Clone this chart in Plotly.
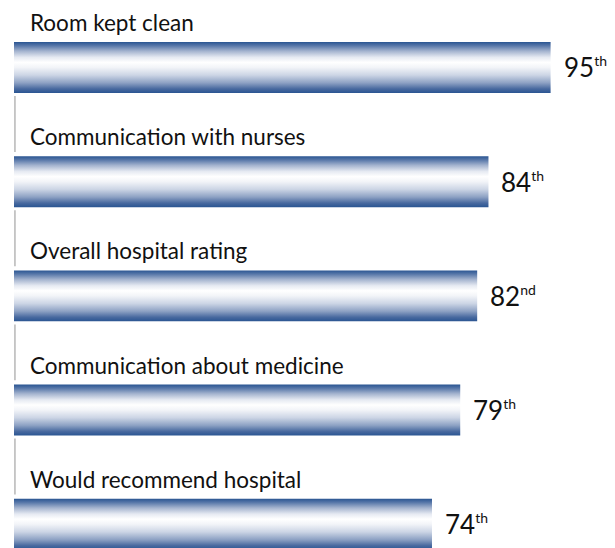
import plotly.graph_objects as go

categories = ["Room kept clean", "Communication with nurses", "Overall hospital rating",
              "Communication about medicine", "Would recommend hospital"]
percentiles = [95, 84, 82, 79, 74]
suffixes = ["th", "th", "nd", "th", "th"]

FONT = "Lato"
half = 0.223  # half bar thickness in category units

gradient = [
    [0.0, "#2a5592"], [0.08, "#48699f"], [0.2, "#8ea2c4"], [0.35, "#ccd5e5"],
    [0.5, "#f2f4f8"], [0.6, "#ffffff"], [0.7, "#e6eaf2"], [0.82, "#a5b4cf"],
    [0.93, "#5676a8"], [1.0, "#2a5592"],
]

fig = go.Figure()

# thin grey connector lines between bars
lx, ly = [], []
for i in range(len(categories) - 1):
    lx += [0.15, 0.15, None]
    ly += [i + 0.25, i + 1 - 0.26, None]
fig.add_trace(go.Scatter(x=lx, y=ly, mode="lines",
                         line=dict(color="#c4c4c4", width=2),
                         hoverinfo="skip", showlegend=False))

for i, (c, v) in enumerate(zip(categories, percentiles)):
    fig.add_trace(go.Scatter(
        x=[0, v, v, 0, 0], y=[i - half, i - half, i + half, i + half, i - half],
        mode="lines", fill="toself", line=dict(width=0),
        fillgradient=dict(type="vertical", colorscale=gradient),
        hoverinfo="skip", showlegend=False))
    fig.add_annotation(x=0, y=i - 0.394, xref="x", yref="y", text=c,
                       xanchor="left", yanchor="middle", xshift=14, showarrow=False,
                       font=dict(family=FONT, size=22.5, color="#111111"))
    fig.add_annotation(x=v, y=i, xref="x", yref="y",
                       text=f"{v}<sup><span style='font-size:14px'>{suffixes[i]}</span></sup>",
                       xanchor="left", yanchor="middle", xshift=11, showarrow=False,
                       font=dict(family=FONT, size=26, color="#111111"))

fig.update_layout(
    width=607, height=540,
    margin=dict(l=6, r=0, t=0, b=0),
    paper_bgcolor="white", plot_bgcolor="white",
    xaxis=dict(range=[0, 106.4], visible=False, fixedrange=True),
    yaxis=dict(range=[4.208, -0.521], visible=False, fixedrange=True),
    showlegend=False,
)

fig.write_html("out.html")
